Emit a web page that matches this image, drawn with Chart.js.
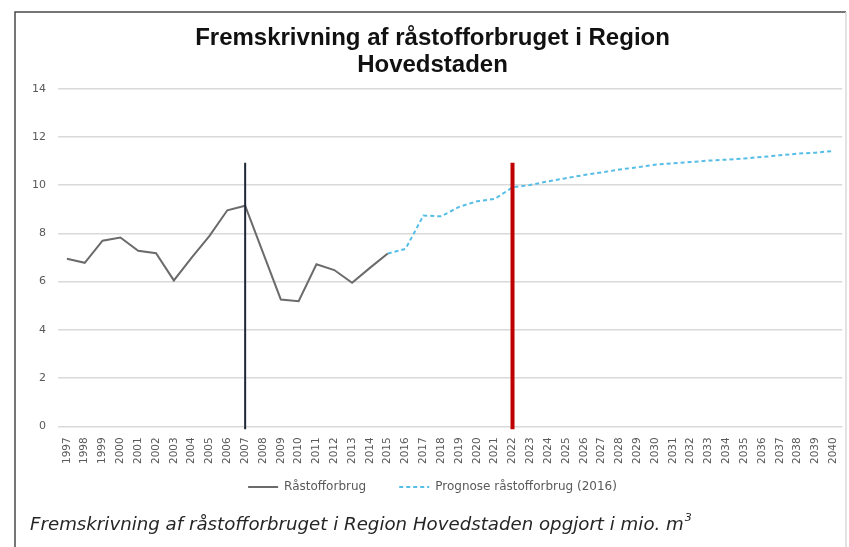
<!DOCTYPE html>
<html>
<head>
<meta charset="utf-8">
<script src="https://cdn.jsdelivr.net/npm/chart.js@4/dist/chart.umd.min.js"></script>
<style>
  html, body { margin: 0; padding: 0; background: #fff; }
  #wrap { width: 849px; height: 547px; position: relative; }
</style>
</head>
<body>
<div id="wrap"><canvas id="chart" width="849" height="547"></canvas></div>
<script>
// Years on the x axis
const years = [];
for (let y = 1997; y <= 2040; y++) years.push(String(y));

// Historical consumption, mio. m3 (1997-2015)
const historic = [6.95, 6.78, 7.7, 7.83, 7.28, 7.18, 6.05, 7.0, 7.9, 8.96, 9.15, 7.2,
  5.26, 5.19, 6.72, 6.48, 5.95, 6.57, 7.17];

// Forecast (2016 prognosis), starts at 2015
const forecast = [7.17, 7.36, 8.74, 8.71, 9.1, 9.33, 9.43, 9.91, 10.01, 10.16, 10.29,
  10.42, 10.53, 10.65, 10.74, 10.85, 10.91, 10.96, 11.02, 11.06, 11.11, 11.17, 11.24,
  11.31, 11.35, 11.42];

// Vertical marker lines
const markerYears = ['2007', '2022'];
const markerColors = ['#1d2738', '#c00000'];
const markerWidths = [2, 4];
const markerTop = 10.93;

const historicData = years.map((y, i) => i < historic.length ? historic[i] : null);
const forecastStart = years.indexOf('2015');
const forecastData = years.map((y, i) => i >= forecastStart ? forecast[i - forecastStart] : null);

const decorations = {
  id: 'decorations',
  afterDatasetsDraw(chart) {
    const ctx = chart.ctx;
    const x = chart.scales.x, y = chart.scales.y;
    ctx.save();
    for (let i = 0; i < markerYears.length; i++) {
      const px = x.getPixelForValue(years.indexOf(markerYears[i]));
      ctx.beginPath();
      ctx.strokeStyle = markerColors[i];
      ctx.lineWidth = markerWidths[i];
      ctx.moveTo(px, y.getPixelForValue(markerTop));
      ctx.lineTo(px, y.getPixelForValue(0) + 3);
      ctx.stroke();
    }
    ctx.restore();
  },
  afterDraw(chart) {
    const ctx = chart.ctx;
    ctx.save();
    // frame
    ctx.strokeStyle = '#4a4a4a';
    ctx.lineWidth = 1.5;
    ctx.beginPath();
    ctx.moveTo(15, 547);
    ctx.lineTo(15, 12);
    ctx.lineTo(846, 12);
    ctx.stroke();
    ctx.strokeStyle = '#d8d8d8';
    ctx.beginPath();
    ctx.moveTo(846, 12);
    ctx.lineTo(846, 547);
    ctx.stroke();
    // caption
    ctx.fillStyle = '#262626';
    ctx.font = 'italic 18.2px "DejaVu Sans"';
    ctx.textBaseline = 'alphabetic';
    const cap = 'Fremskrivning af råstofforbruget i Region Hovedstaden opgjort i mio. m';
    ctx.fillText(cap, 30, 530);
    const w = ctx.measureText(cap).width;
    ctx.font = 'italic 11px "DejaVu Sans"';
    ctx.fillText('3', 30 + w + 1, 521);
    ctx.restore();
  }
};

new Chart(document.getElementById('chart'), {
  type: 'line',
  data: {
    labels: years,
    datasets: [
      {
        label: 'Råstofforbrug',
        data: historicData,
        borderColor: '#6b6b6b',
        backgroundColor: '#6b6b6b',
        borderWidth: 2,
        pointRadius: 0,
        tension: 0,
        spanGaps: false
      },
      {
        label: 'Prognose råstofforbrug (2016)',
        data: forecastData,
        borderColor: '#55bde6',
        backgroundColor: '#55bde6',
        borderWidth: 2,
        borderDash: [4, 3],
        pointRadius: 0,
        tension: 0
      }
    ]
  },
  options: {
    responsive: false,
    animation: false,
    layout: { padding: { left: 20, right: 4, top: 0, bottom: 44 } },
    plugins: {
      title: {
        display: true,
        text: ['Fremskrivning af råstofforbruget i Region', 'Hovedstaden'],
        color: '#111',
        font: { family: 'Liberation Sans', size: 24, weight: 'bold', lineHeight: 1.12 },
        padding: { top: 25, bottom: 10 }
      },
      legend: {
        position: 'bottom',
        labels: {
          boxWidth: 30,
          boxHeight: 0,
          color: '#595959',
          font: { family: 'DejaVu Sans', size: 12 },
          padding: 14,
          // widen the gap between the two entries
          generateLabels(chart) {
            const items = Chart.defaults.plugins.legend.labels.generateLabels(chart);
            items[0].text += '     ';
            return items;
          }
        }
      },
      tooltip: { enabled: false }
    },
    scales: {
      x: {
        offset: true,
        grid: { display: false },
        border: { display: false },
        ticks: {
          autoSkip: false,
          maxRotation: 90,
          minRotation: 90,
          color: '#595959',
          font: { family: 'DejaVu Sans', size: 10.5 },
          padding: 3
        }
      },
      y: {
        min: 0,
        max: 14,
        border: { display: false },
        grid: { color: '#d9d9d9', lineWidth: 1.5, drawTicks: false },
        ticks: {
          stepSize: 2,
          color: '#595959',
          font: { family: 'DejaVu Sans', size: 11 },
          padding: 12
        }
      }
    }
  },
  plugins: [decorations]
});
</script>
</body>
</html>
